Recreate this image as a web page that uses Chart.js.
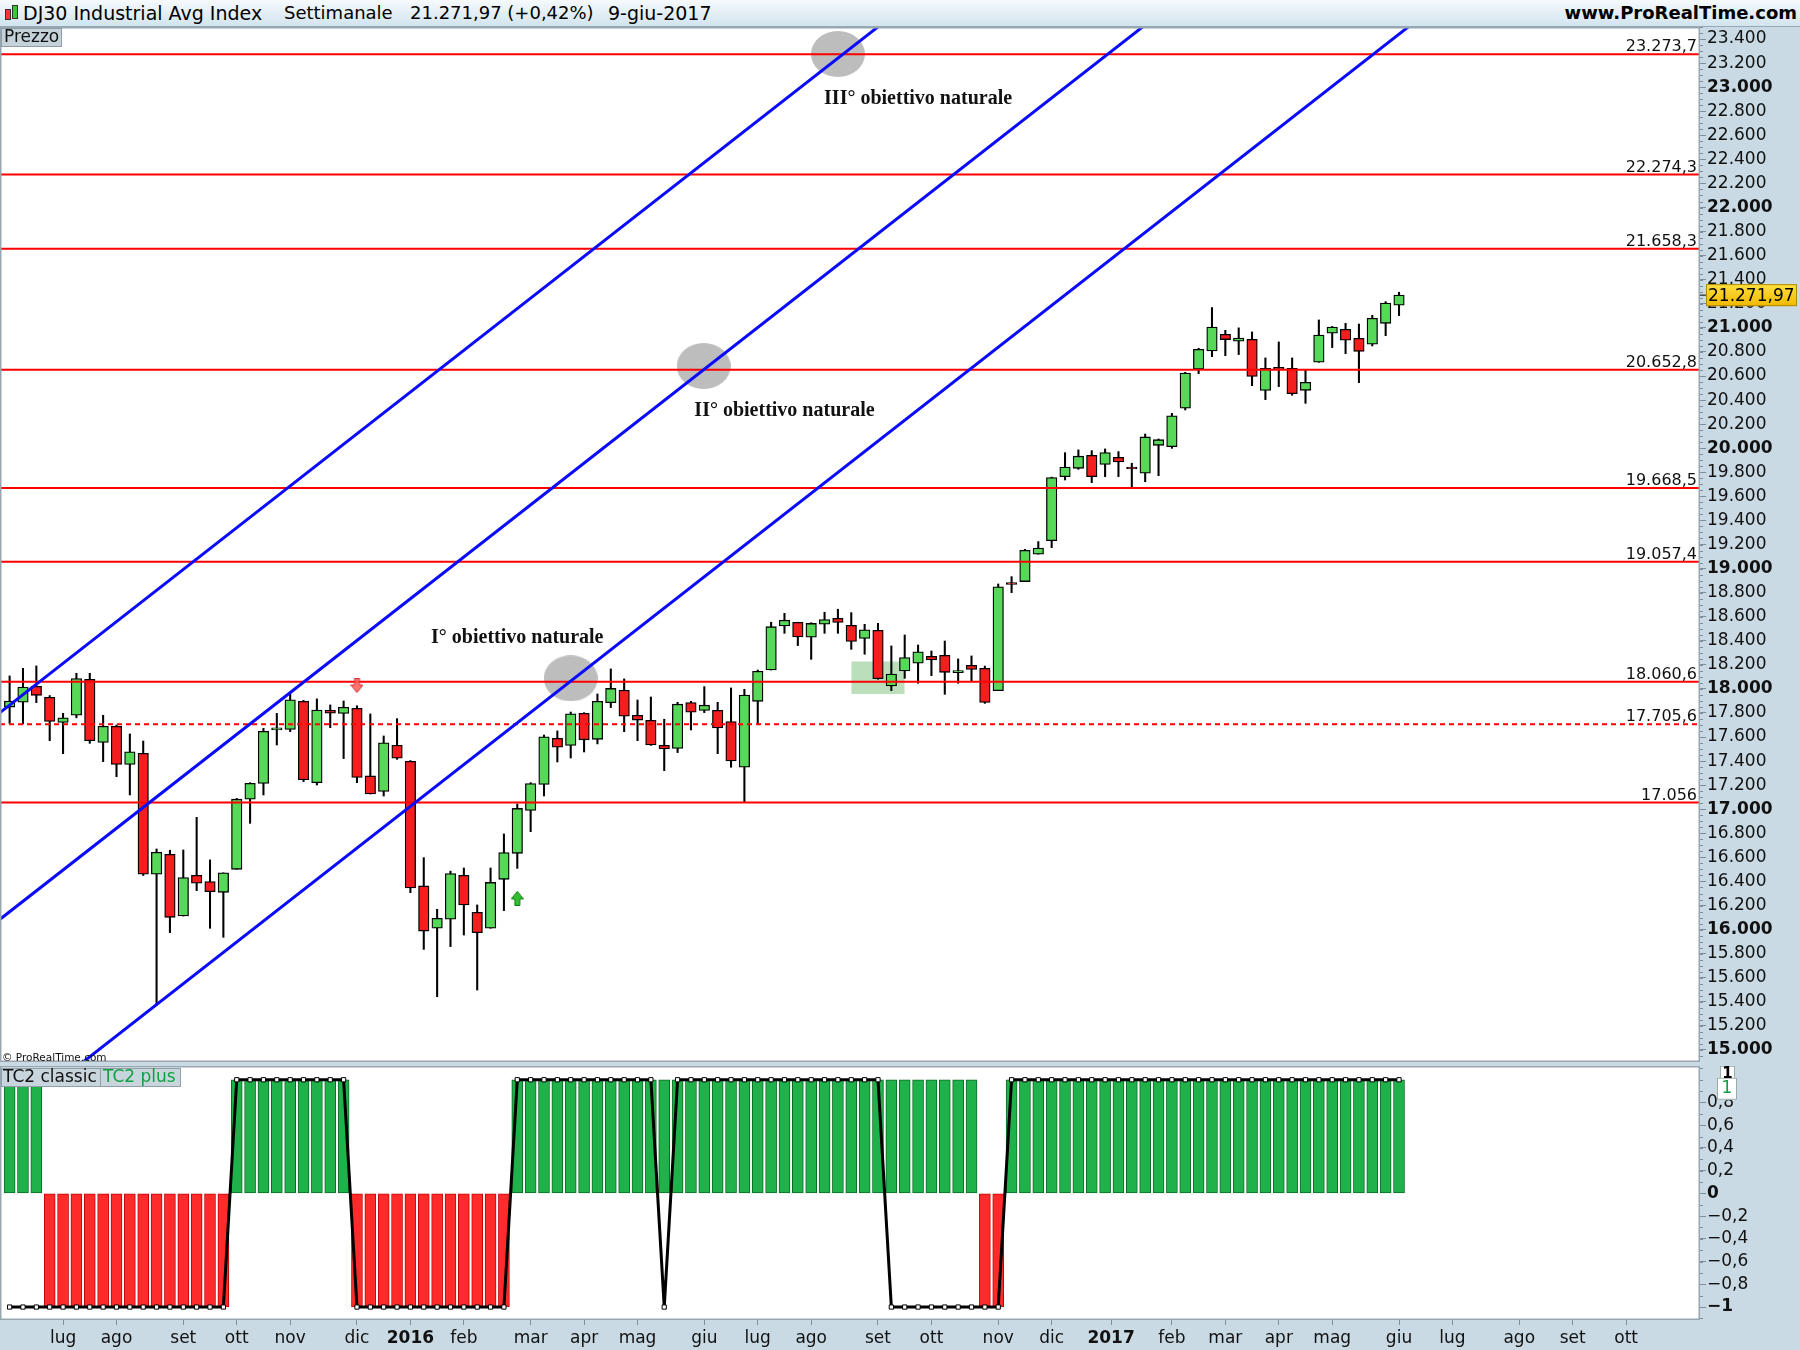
<!DOCTYPE html>
<html><head><meta charset="utf-8">
<script src="https://cdn.jsdelivr.net/npm/chart.js@4.4.0/dist/chart.umd.min.js"></script>
<style>
html,body{margin:0;padding:0;}
body{width:1800px;height:1350px;position:relative;overflow:hidden;background:#c9dae4;font-family:'DejaVu Sans',sans-serif;}
#bar{position:absolute;left:0;top:0;width:1800px;height:26px;background:linear-gradient(#f6fafd,#d2e4ee);border-bottom:1px solid #97a9b4;}
#bar span{position:absolute;top:2px;font-size:18px;color:#000;white-space:nowrap;line-height:22px;}
#p1{position:absolute;left:0;top:27px;width:1800px;height:1035px;}
#p2{position:absolute;left:0;top:1066px;width:1800px;height:284px;}
.ic{position:absolute;border:1px solid #333;}
</style></head>
<body>
<div id="bar">
  <div class="ic" style="left:5px;top:9px;width:4px;height:9px;background:#f33;"></div>
  <div class="ic" style="left:12px;top:5px;width:4px;height:12px;background:#3c3;"></div>
  <span style="left:23px;font-size:19px">DJ30 Industrial Avg Index</span>
  <span style="left:284px">Settimanale</span>
  <span style="left:410px">21.271,97 (+0,42%)</span>
  <span style="left:608px;font-size:19px">9-giu-2017</span>
  <span style="right:3px;font-weight:bold;font-size:18px">www.ProRealTime.com</span>
</div>
<div id="p1"><canvas id="c1"></canvas></div>
<div id="p2"><canvas id="c2"></canvas></div>
<script>
// ---------- DATA (weekly candles, 12-giu-2015 .. 9-giu-2017) ----------
const opens = [17849,17889,18022,17930,17722,17781,18080,17556,17689,17373,
17465,16460,16626,16113,16451,16399,16310,16501,17083,17214,
17660,17664,17897,17221,17822,17797,17839,17277,17148,17532,
17398,16363,16011,16086,16451,16144,16011,16418,16634,16991,
17207,17590,17531,17797,17581,17886,17989,17781,17739,17531,
17506,17886,17821,17822,17728,17349,17897,18157,18523,18554,
18429,18537,18587,18529,18420,18487,18024,18149,18213,18271,
18279,18135,18196,18171,17986,18870,18892,19119,19232,19764,
19833,19941,19866,19925,19842,19792,20024,20013,20332,20656,
20808,20947,20889,20905,20480,20665,20664,20481,20714,20955,
20988,20913,20864,21038,21188];
const highs = [18108,18171,18191,17945,17797,18130,18130,17781,17700,17626,
17567,16670,16660,16662,16933,16579,16472,17090,17221,17673,
17797,17958,17905,17917,17867,17900,17860,17792,17609,17753,
17405,16598,16169,16486,16512,16205,16512,16795,17044,17221,
17617,17651,17808,17803,17958,18166,18083,17908,17933,17748,
17889,17897,18019,17889,18008,17997,18157,18554,18628,18554,
18550,18637,18662,18634,18537,18545,18357,18448,18365,18315,
18398,18249,18274,18190,18872,18933,19160,19224,19760,19963,
19986,19980,19994,19972,19875,20118,20077,20290,20631,20830,
21169,20980,21000,20966,20750,20883,20750,20647,21066,21012,
21038,21032,21104,21218,21296];
const lows = [17714,17709,17886,17570,17462,17760,17548,17396,17271,17119,
16450,15370,15975,16113,16324,16011,15936,16501,16883,17119,
17534,17645,17230,17202,17678,17421,17221,17127,17110,17415,
16307,15836,15443,15859,15955,15498,16011,16158,16509,16814,
17110,17393,17426,17476,17543,17845,17645,17570,17531,17321,
17471,17659,17803,17462,17349,17063,17706,18157,18462,18360,
18246,18462,18462,18329,18288,18080,17986,18088,18047,18110,
17955,18047,18066,17880,17986,18800,18892,19119,19174,19736,
19825,19714,19764,19764,19667,19722,19772,19999,20318,20620,
20761,20769,20778,20520,20404,20512,20440,20373,20714,20836,
20786,20545,20850,20935,21102];
const closes = [17899,18016,17947,17730,17760,18086,17569,17690,17373,17477,
16460,16643,16102,16433,16385,16315,16472,17084,17216,17647,
17664,17910,17245,17824,17798,17848,17265,17128,17552,17425,
16346,15988,16094,16466,16205,15974,16392,16640,17007,17213,
17602,17516,17793,17577,17897,18004,17774,17741,17535,17501,
17873,17807,17865,17675,17401,17949,18147,18517,18571,18432,
18544,18576,18552,18395,18492,18085,18124,18261,18308,18240,
18138,18146,18161,17888,18848,18868,19152,19170,19757,19843,
19934,19763,19964,19886,19827,20094,20071,20269,20624,20822,
21006,20903,20915,20597,20663,20656,20453,20548,20941,21007,
20897,20805,21080,21206,21271.97];

// indicator TC2 plus (bars) and TC2 classic (line)
const tc2Plus = [1,1,1,-1,-1,-1,-1,-1,-1,-1,
-1,-1,-1,-1,-1,-1,-1,1,1,1,
1,1,1,1,1,1,-1,-1,-1,-1,
-1,-1,-1,-1,-1,-1,-1,-1,1,1,
1,1,1,1,1,1,1,1,1,1,
1,1,1,1,1,1,1,1,1,1,
1,1,1,1,1,1,1,1,1,1,
1,1,1,-1,-1,1,1,1,1,1,
1,1,1,1,1,1,1,1,1,1,
1,1,1,1,1,1,1,1,1,1,
1,1,1,1,1];
const tc2Classic = [-1,-1,-1,-1,-1,-1,-1,-1,-1,-1,
-1,-1,-1,-1,-1,-1,-1,1,1,1,
1,1,1,1,1,1,-1,-1,-1,-1,
-1,-1,-1,-1,-1,-1,-1,-1,1,1,
1,1,1,1,1,1,1,1,1,-1,
1,1,1,1,1,1,1,1,1,1,
1,1,1,1,1,1,-1,-1,-1,-1,
-1,-1,-1,-1,-1,1,1,1,1,1,
1,1,1,1,1,1,1,1,1,1,
1,1,1,1,1,1,1,1,1,1,
1,1,1,1,1];

// horizontal levels
const levels = [23273.7, 22274.3, 21658.3, 20652.8, 19668.5, 19057.4, 18060.6, 17705.6, 17056];
const levelLabels = ['23.273,7','22.274,3','21.658,3','20.652,8','19.668,5','19.057,4','18.060,6','17.705,6','17.056'];
const dashedLevels = [17705.6];

// parallel trend channel lines (start / end anchors: week index, price)
const trendStartX = [-0.72, -0.72, 5];
const trendStartY = [17803, 16086, 14857];
const trendEndX = [66, 86, 106];
const trendEndY = [23588, 23604, 23614];

// natural targets
const targetX = [42, 51.95, 62];
const targetY = [18088, 20683, 23276];
const targetText = ['I° obiettivo naturale', 'II° obiettivo naturale', 'III° obiettivo naturale'];
const targetTextX = [38, 58, 68];
const targetTextY = [18423, 20312, 22907];

// highlighted zone
const zoneX = [63, 67];
const zoneY = [17958, 18228];

// signal arrows
const arrowDownX = [26], arrowDownY = [18028];
const arrowUpX = [38], arrowUpY = [16260];

// axes
const xMin = -0.72, xMax = 126.53;
const priceMin = 14900, priceMax = 23500;
const priceTicks = [15000,15200,15400,15600,15800,16000,16200,16400,16600,16800,
17000,17200,17400,17600,17800,18000,18200,18400,18600,18800,
19000,19200,19400,19600,19800,20000,20200,20400,20600,20800,
21000,21200,21400,21600,21800,22000,22200,22400,22600,22800,
23000,23200,23400];
const indTicks = [-1,-0.8,-0.6,-0.4,-0.2,0,0.2,0.4,0.6,0.8];
const monthTicks = [4,8,13,17,21,26,30,34,39,43,47,52,56,60,65,69,74,78,82.45,87,91,95,99,104,108,113,117,121];
const monthLabels = ['lug','ago','set','ott','nov','dic','2016','feb','mar','apr','mag','giu','lug','ago','set','ott','nov','dic','2017','feb','mar','apr','mag','giu','lug','ago','set','ott'];

// ---------- RENDER ----------
Chart.defaults.font.family = "'DejaVu Sans', sans-serif";
Chart.defaults.color = '#111';
const FONT = "'DejaVu Sans', sans-serif";
const GREEN = '#58d858', RED = '#f51e1e';
const AXIS_GRAY = '#7f8f99';

function fmtThousands(v) {
  return String(v).replace(/\B(?=(\d{3})+(?!\d))/g, '.');
}
function makeEllipse(w, h, color) {
  const c = document.createElement('canvas'); c.width = w; c.height = h;
  const g = c.getContext('2d'); g.fillStyle = color;
  g.beginPath(); g.ellipse(w/2, h/2, w/2, h/2, 0, 0, Math.PI*2); g.fill();
  return c;
}
function makeArrow(dir, fill, stroke) {
  const c = document.createElement('canvas'); c.width = 13; c.height = 15;
  const g = c.getContext('2d');
  g.beginPath();
  if (dir === 'down') {
    g.moveTo(4,0.5); g.lineTo(9,0.5); g.lineTo(9,7); g.lineTo(12.5,7); g.lineTo(6.5,14.5); g.lineTo(0.5,7); g.lineTo(4,7);
  } else {
    g.moveTo(4,14.5); g.lineTo(9,14.5); g.lineTo(9,8); g.lineTo(12.5,8); g.lineTo(6.5,0.5); g.lineTo(0.5,8); g.lineTo(4,8);
  }
  g.closePath(); g.fillStyle = fill; g.fill(); g.strokeStyle = stroke; g.lineWidth = 1; g.stroke();
  return c;
}

const panelPlugin = {
  id: 'panel',
  beforeDraw(chart) {
    const {ctx, chartArea: a} = chart;
    ctx.save(); ctx.fillStyle = '#ffffff';
    ctx.fillRect(a.left, a.top, a.right - a.left, a.bottom - a.top);
    ctx.restore();
  },
  afterDraw(chart) {
    const {ctx, chartArea: a} = chart;
    ctx.save();
    ctx.strokeStyle = '#97a7b1'; ctx.lineWidth = 1.5;
    ctx.strokeRect(a.left + 0.75, a.top + 0.75, a.right - a.left - 1.5, a.bottom - a.top - 1.5);
    const y = chart.scales.y;
    const step = chart.options.plugins.panel.minorStep;
    ctx.strokeStyle = AXIS_GRAY; ctx.lineWidth = 1;
    for (let v = Math.ceil(y.min / step) * step; v <= y.max; v += step) {
      const py = Math.round(y.getPixelForValue(v)) + 0.5;
      ctx.beginPath(); ctx.moveTo(a.right, py); ctx.lineTo(a.right + 3, py); ctx.stroke();
    }
    ctx.restore();
  }
};

const priceOverlay = {
  id: 'priceOverlay',
  afterDraw(chart) {
    const {ctx, chartArea: a} = chart;
    const xs = chart.scales.x, ys = chart.scales.y;
    ctx.save();
    ctx.font = '16px ' + FONT; ctx.fillStyle = '#111'; ctx.textAlign = 'right'; ctx.textBaseline = 'alphabetic';
    levels.forEach((L, i) => {
      ctx.fillText(levelLabels[i], a.right - 3, ys.getPixelForValue(L) - 3);
    });
    ctx.font = "bold 20px 'Liberation Serif', 'Times New Roman', serif";
    ctx.textAlign = 'center'; ctx.textBaseline = 'middle'; ctx.fillStyle = '#111';
    targetText.forEach((t, i) => {
      ctx.fillText(t, xs.getPixelForValue(targetTextX[i]), ys.getPixelForValue(targetTextY[i]));
    });
    ctx.font = '10.5px ' + FONT; ctx.textAlign = 'left'; ctx.textBaseline = 'alphabetic';
    ctx.fillText('© ProRealTime.com', a.left + 2, a.bottom - 1);
    ctx.fillStyle = '#c5d2da'; ctx.fillRect(a.left + 1, a.top + 1, 61, 19);
    ctx.strokeStyle = '#8e9ca6'; ctx.lineWidth = 1; ctx.strokeRect(a.left + 1.5, a.top + 1.5, 60, 18);
    ctx.fillStyle = '#111'; ctx.font = '17px ' + FONT; ctx.textBaseline = 'middle';
    ctx.fillText('Prezzo', a.left + 4, a.top + 11);
    const last = closes[closes.length - 1];
    const py = ys.getPixelForValue(last);
    const grd = ctx.createLinearGradient(0, py - 11, 0, py + 11);
    grd.addColorStop(0, '#ffe040'); grd.addColorStop(1, '#f0b800');
    ctx.fillStyle = grd; ctx.fillRect(a.right + 6, py - 11, 91, 22);
    ctx.strokeStyle = '#b08a00'; ctx.strokeRect(a.right + 6.5, py - 10.5, 90, 21);
    ctx.strokeStyle = '#000'; ctx.beginPath(); ctx.moveTo(a.right, py); ctx.lineTo(a.right + 6, py); ctx.stroke();
    ctx.fillStyle = '#000'; ctx.font = '17px ' + FONT; ctx.textAlign = 'left';
    ctx.fillText('21.271,97', a.right + 8, py + 1);
    ctx.restore();
  }
};

const idx = closes.map((_, i) => i);
const bodyData = idx.map(i => ({x: i, y: [opens[i], closes[i]]}));
const wickData = idx.map(i => ({x: i, y: [lows[i], highs[i]]}));
const bodyColors = idx.map(i => closes[i] >= opens[i] ? GREEN : RED);

const datasets1 = [];
datasets1.push({
  type: 'line', label: 'zona', data: [{x: zoneX[0], y: zoneY[1]}, {x: zoneX[1], y: zoneY[1]}],
  fill: {value: zoneY[0]}, backgroundColor: 'rgba(120,190,120,0.5)', borderWidth: 0, pointRadius: 0, order: 30
});
datasets1.push({
  type: 'line', label: 'obiettivi', data: targetX.map((x, i) => ({x, y: targetY[i]})),
  showLine: false, pointStyle: makeEllipse(54, 46, '#bdbdbd'), pointRadius: 5, order: 29
});
datasets1.push({
  type: 'bar', label: 'ombre', data: wickData, barThickness: 1.4, backgroundColor: '#000',
  borderWidth: 0, grouped: false, order: 28
});
datasets1.push({
  type: 'bar', label: 'candele', data: bodyData, barThickness: 10.5, backgroundColor: bodyColors,
  borderColor: '#000', borderWidth: 1.3, borderSkipped: false, grouped: false, minBarLength: 2, order: 27
});
levels.forEach((L, i) => {
  datasets1.push({
    type: 'line', label: 'liv' + i, data: [{x: xMin, y: L}, {x: xMax, y: L}],
    borderColor: '#ff0000', borderWidth: 2, pointRadius: 0,
    borderDash: dashedLevels.includes(L) ? [5, 4] : [], order: 20, clip: 0
  });
});
trendStartX.forEach((sx, i) => {
  datasets1.push({
    type: 'line', label: 'canale' + i, data: [{x: sx, y: trendStartY[i]}, {x: trendEndX[i], y: trendEndY[i]}],
    borderColor: '#0a0aff', borderWidth: 3, pointRadius: 0, order: 10, clip: 0
  });
});
datasets1.push({
  type: 'line', label: 'vendi', data: arrowDownX.map((x, i) => ({x, y: arrowDownY[i]})), showLine: false,
  pointStyle: makeArrow('down', 'rgba(255,90,90,0.85)', '#d83030'), pointRadius: 5, order: 2
});
datasets1.push({
  type: 'line', label: 'compra', data: arrowUpX.map((x, i) => ({x, y: arrowUpY[i]})), showLine: false,
  pointStyle: makeArrow('up', '#30c030', '#0b7a0b'), pointRadius: 5, order: 2
});

new Chart(document.getElementById('c1'), {
  type: 'bar',
  data: {datasets: datasets1},
  plugins: [panelPlugin, priceOverlay],
  options: {
    responsive: true, maintainAspectRatio: false, animation: false, devicePixelRatio: 1,
    layout: {padding: 0, autoPadding: false},
    events: [],
    plugins: {legend: {display: false}, tooltip: {enabled: false}, panel: {minorStep: 50}},
    scales: {
      x: {type: 'linear', display: false, min: xMin, max: xMax, offset: false, grid: {offset: false}},
      y: {
        type: 'linear', position: 'right', min: priceMin, max: priceMax,
        afterBuildTicks: s => { s.ticks = priceTicks.map(v => ({value: v})); },
        afterFit: s => { s.width = 100; s.paddingTop = 0; s.paddingBottom = 0; },
        grid: {drawOnChartArea: false, drawTicks: true, tickLength: 6, color: AXIS_GRAY},
        border: {display: false},
        ticks: {
          padding: 1, color: '#111', autoSkip: false,
          font: c => ({size: 17, weight: (c.tick && c.tick.value % 1000 === 0) ? 'bold' : 'normal'}),
          callback: v => fmtThousands(v)
        }
      }
    }
  }
});

// ---------- indicator panel ----------
const indOverlay = {
  id: 'indOverlay',
  afterDraw(chart) {
    const {ctx, chartArea: a} = chart;
    const ys = chart.scales.y;
    ctx.save();
    ctx.fillStyle = '#c9d5dc'; ctx.fillRect(a.left + 1, a.top + 2, 180, 19);
    ctx.strokeStyle = '#909ea8'; ctx.lineWidth = 1;
    ctx.strokeRect(a.left + 1.5, a.top + 2.5, 99, 18); ctx.strokeRect(a.left + 100.5, a.top + 2.5, 80, 18);
    ctx.font = '17px ' + FONT; ctx.textBaseline = 'middle'; ctx.textAlign = 'left';
    ctx.fillStyle = '#111'; ctx.fillText('TC2 classic', a.left + 3, a.top + 12);
    ctx.fillStyle = '#13a043'; ctx.fillText('TC2 plus', a.left + 103, a.top + 12);
    const y1 = ys.getPixelForValue(tc2Classic[tc2Classic.length - 1]);
    const y2 = ys.getPixelForValue(tc2Plus[tc2Plus.length - 1]);
    ctx.fillStyle = '#fff'; ctx.strokeStyle = '#9aa';
    ctx.fillRect(a.right + 20, y1 - 14, 15, 14); ctx.strokeRect(a.right + 20.5, y1 - 13.5, 14, 13);
    ctx.fillRect(a.right + 17, y2 - 2, 20, 22); ctx.strokeRect(a.right + 17.5, y2 - 1.5, 19, 21);
    ctx.fillStyle = '#000'; ctx.font = 'bold 15px ' + FONT; ctx.textAlign = 'center';
    ctx.fillText('1', a.right + 27.5, y1 - 6);
    ctx.fillStyle = '#13a043'; ctx.font = '17px ' + FONT;
    ctx.fillText(String(tc2Plus[tc2Plus.length - 1]), a.right + 27, y2 + 9);
    ctx.restore();
  }
};

new Chart(document.getElementById('c2'), {
  type: 'bar',
  data: {
    datasets: [
      {
        type: 'line', label: 'TC2 classic', data: idx.map(i => ({x: i, y: tc2Classic[i]})),
        borderColor: '#000', borderWidth: 3, pointStyle: 'rect', pointRadius: 3,
        pointBackgroundColor: '#fff', pointBorderColor: '#000', pointBorderWidth: 1, order: 1, clip: false
      },
      {
        type: 'bar', label: 'TC2 plus', data: idx.map(i => ({x: i, y: tc2Plus[i]})),
        barThickness: 11, grouped: false,
        backgroundColor: tc2Plus.map(v => v > 0 ? '#1fb24b' : '#ff2b2b'),
        borderColor: tc2Plus.map(v => v > 0 ? '#0c6a24' : '#c40000'),
        borderWidth: 1, borderSkipped: false, order: 2
      }
    ]
  },
  plugins: [panelPlugin, indOverlay],
  options: {
    responsive: true, maintainAspectRatio: false, animation: false, devicePixelRatio: 1,
    layout: {padding: 0, autoPadding: false},
    events: [],
    plugins: {legend: {display: false}, tooltip: {enabled: false}, panel: {minorStep: 0.1}},
    scales: {
      x: {
        type: 'linear', min: xMin, max: xMax, offset: false,
        afterBuildTicks: s => { s.ticks = monthTicks.map(v => ({value: v})); },
        afterFit: s => { s.height = 30; s.paddingLeft = 0; s.paddingRight = 0; },
        grid: {drawOnChartArea: false, drawTicks: true, tickLength: 5, color: AXIS_GRAY, offset: false},
        border: {display: false},
        ticks: {
          autoSkip: false, maxRotation: 0, padding: 3, color: '#111',
          font: c => ({size: 17, weight: (c.tick && /^\d{4}$/.test(String(c.tick.label))) ? 'bold' : 'normal'}),
          callback: v => monthLabels[monthTicks.indexOf(v)]
        }
      },
      y: {
        type: 'linear', position: 'right', min: -1.114, max: 1.121,
        afterBuildTicks: s => { s.ticks = indTicks.map(v => ({value: v})); },
        afterFit: s => { s.width = 100; s.paddingTop = 0; s.paddingBottom = 0; },
        grid: {drawOnChartArea: false, drawTicks: true, tickLength: 6, color: AXIS_GRAY},
        border: {display: false},
        ticks: {
          padding: 1, color: '#111', autoSkip: false,
          font: c => ({size: 17, weight: (c.tick && (c.tick.value === 0 || c.tick.value === -1)) ? 'bold' : 'normal'}),
          callback: v => {
            if (v === 0) return '0';
            const s = Math.abs(v) === 1 ? '1' : Math.abs(v).toFixed(1).replace('.', ',');
            return (v < 0 ? '\u2212' : '') + s;
          }
        }
      }
    }
  }
});
</script>
</body></html>
